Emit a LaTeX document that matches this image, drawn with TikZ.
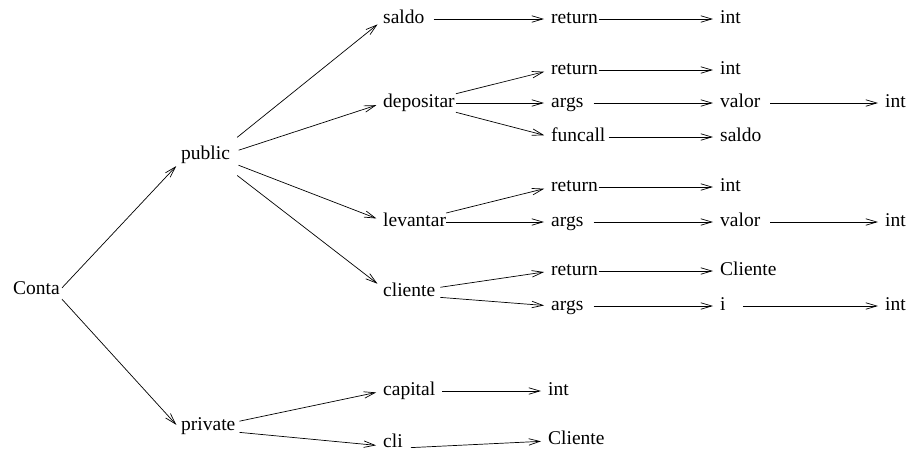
\documentclass[tikz,border=0pt]{standalone}
\usepackage{fontspec}
\setmainfont{Liberation Serif}
\usetikzlibrary{arrows.meta}
\begin{document}
\begin{tikzpicture}[x=1pt,y=-1pt,
  lbl/.style={anchor=west,inner xsep=0pt,inner ysep=0pt,text height=0.95em,text depth=0.13em,
    font=\fontsize{19.5}{22}\selectfont},
  edge/.style={draw,line width=0.7pt,-{Straight Barb[length=11pt,width=6.5pt,line width=0.7pt]},shorten >=7pt,shorten <=2pt}]
\useasboundingbox (0,0) rectangle (919,453);
% column 0/1
\node[lbl] (conta) at (13,290) {Conta};
\node[lbl] (public) at (181,155) {public};
\node[lbl] (private) at (181,426) {private};
% column 2
\node[lbl] (saldo) at (383,19) {saldo};
\node[lbl] (dep) at (383,103) {depositar};
\node[lbl] (lev) at (383,222) {levantar};
\node[lbl] (clie) at (383,292) {cliente};
\node[lbl] (capital) at (383,391) {capital};
\node[lbl] (cli) at (383,443) {cli};
% column 3
\node[lbl] (r1) at (551,19) {return};
\node[lbl] (r2) at (551,70) {return};
\node[lbl] (a2) at (551,103) {args};
\node[lbl] (f2) at (551,137) {funcall};
\node[lbl] (r3) at (551,187) {return};
\node[lbl] (a3) at (551,222) {args};
\node[lbl] (r4) at (551,271) {return};
\node[lbl] (a4) at (551,306) {args};
\node[lbl] (capint) at (548,391) {int};
\node[lbl] (cliC) at (548,440) {Cliente};
% column 4
\node[lbl] (i1) at (720,19) {int};
\node[lbl] (i2) at (720,70) {int};
\node[lbl] (v2) at (720,103) {valor};
\node[lbl] (s2) at (720,137) {saldo};
\node[lbl] (i3) at (720,187) {int};
\node[lbl] (v3) at (720,222) {valor};
\node[lbl] (c4) at (720,271) {Cliente};
\node[lbl] (ii4) at (720,306) {i};
% column 5
\node[lbl] (j2) at (885,103) {int};
\node[lbl] (j3) at (885,222) {int};
\node[lbl] (j4) at (885,306) {int};
% Conta
\path[edge,shorten <=3pt] ([yshift=0pt]conta.east) -- ([yshift=-6pt]public.west);
\path[edge,shorten <=3pt] ([yshift=-7pt]conta.east) -- ([yshift=-4pt]private.west);
% public
\path[edge,shorten <=9pt] ([yshift=12pt]public.east) -- ([yshift=-1pt]saldo.west);
\path[edge,shorten <=9pt] ([yshift=2pt]public.east) -- (dep.west);
\path[edge,shorten <=9pt] ([yshift=-7pt]public.east) -- ([yshift=1pt]lev.west);
\path[edge,shorten <=9pt] ([yshift=-15pt]public.east) -- ([yshift=4pt]clie.west);
% private
\path[edge,shorten <=4pt] ([yshift=4pt]private.east) -- (capital.west);
\path[edge,shorten <=4pt] ([yshift=-6pt]private.east) -- ([yshift=-3pt]cli.west);
% saldo
\path[edge,shorten <=9pt] (saldo.east) -- (r1.west);
\path[edge,shorten <=1pt] (r1.east) -- (i1.west);
% depositar
\path[edge,shorten <=1pt] ([yshift=9pt]dep.east) -- (r2.west);
\path[edge,shorten <=1pt] (dep.east) -- (a2.west);
\path[edge,shorten <=1pt] ([yshift=-9pt]dep.east) -- (f2.west);
\path[edge,shorten <=1pt] (r2.east) -- (i2.west);
\path[edge,shorten <=10pt] (a2.east) -- (v2.west);
\path[edge,shorten <=3pt] (f2.east) -- (s2.west);
\path[edge,shorten <=10pt] (v2.east) -- (j2.west);
% levantar
\path[edge,shorten <=0pt] ([yshift=9pt]lev.east) -- (r3.west);
\path[edge,shorten <=0pt] (lev.east) -- (a3.west);
\path[edge,shorten <=1pt] (r3.east) -- (i3.west);
\path[edge,shorten <=10pt] (a3.east) -- (v3.west);
\path[edge,shorten <=10pt] (v3.east) -- (j3.west);
% cliente
\path[edge,shorten <=5pt] ([yshift=4pt]clie.east) -- (r4.west);
\path[edge,shorten <=5pt] ([yshift=-5pt]clie.east) -- (a4.west);
\path[edge,shorten <=1pt] (r4.east) -- (c4.west);
\path[edge,shorten <=10pt] (a4.east) -- (ii4.west);
\path[edge,shorten <=17pt] (ii4.east) -- (j4.west);
% private children
\path[edge,shorten <=7pt] (capital.east) -- (capint.west);
\path[edge,shorten <=8pt] ([yshift=-5pt]cli.east) -- ([yshift=-1pt]cliC.west);
\end{tikzpicture}
\end{document}
